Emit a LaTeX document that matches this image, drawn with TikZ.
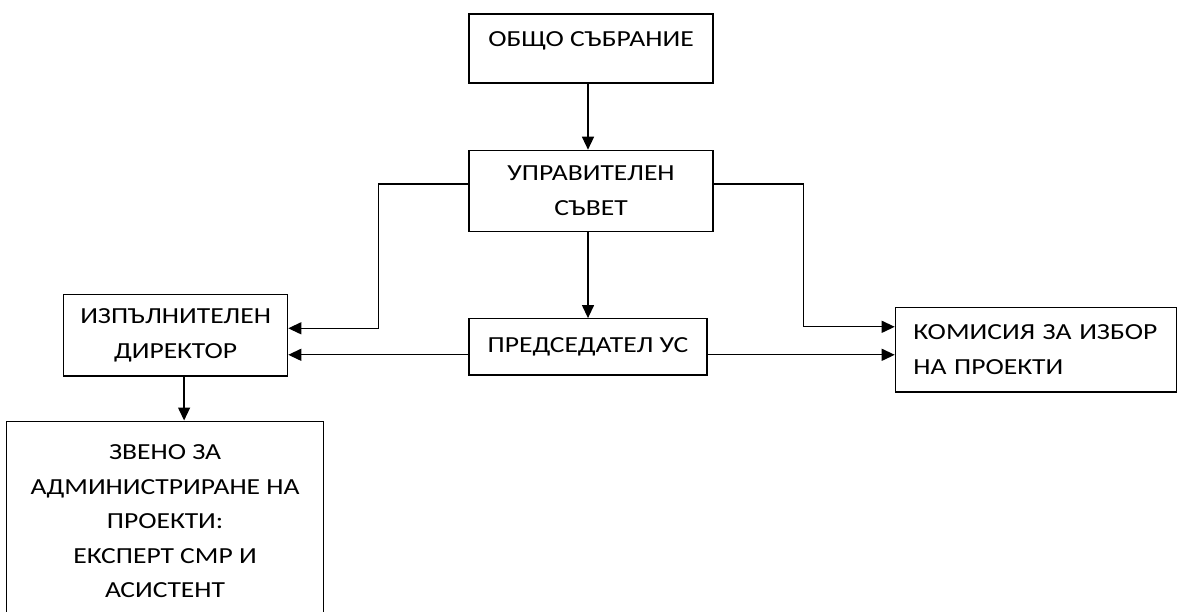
\documentclass[tikz,border=0pt]{standalone}
\usepackage{fontspec}
\setmainfont{Carlito}[FakeStretch=1.2]
\usetikzlibrary{positioning,arrows.meta}

\begin{document}
\begin{tikzpicture}[x=1pt, y=1pt,
  box/.style={draw, line width=1.4pt, inner sep=0pt, align=center, font=\fontsize{23}{34.5}\selectfont},
  arr/.style={line width=1.3pt, -{Triangle[length=13pt, width=12pt]}}]
\useasboundingbox (0,0) rectangle (1178,-612);
\node  (os)[box, minimum width=244pt, text height=32.7pt, text depth=36.3pt] at (591,-48.5) {ОБЩО СЪБРАНИЕ};
\node  (us)[box, minimum width=244pt, minimum height=81pt] [below=66pt of os] {УПРАВИТЕЛЕН\\СЪВЕТ};
\node  (pus)[box, minimum width=238pt, minimum height=56pt] [below=86pt of us, xshift=-3pt] {ПРЕДСЕДАТЕЛ УС};
\node  (id)[box, minimum width=224pt, minimum height=81pt] [left=180pt of pus.north west, anchor=north east, yshift=24pt] {ИЗПЪЛНИТЕЛЕН\\ДИРЕКТОР};
\node  (kip)[box, align=left, inner xsep=18pt, text width=245pt, minimum height=84pt] [right=187pt of pus.north east, anchor=north west, yshift=11pt] {КОМИСИЯ ЗА ИЗБОР\\НА ПРОЕКТИ};
\node  (zv)[box, minimum width=317pt, minimum height=200pt] [below=44pt of id, xshift=-10.5pt] {ЗВЕНО ЗА\\АДМИНИСТРИРАНЕ НА\\ПРОЕКТИ:\\ЕКСПЕРТ СМР И\\АСИСТЕНТ};
\draw[arr] (os.south -| pus.north) -- (us.north -| pus.north);
\draw[arr] (us.south -| pus.north) -- (pus.north);
\draw[arr] ([yshift=7pt]us.west) -- ++(-90,0) |- ([yshift=7pt]id.east);
\draw[arr] ([yshift=7pt]us.east) -- ++(90,0) |- ([yshift=23pt]kip.west);
\draw[arr] ([yshift=-8pt]pus.west) -- ([yshift=-8pt]pus.west -| id.east);
\draw[arr] ([yshift=-8pt]pus.east) -- ([yshift=-8pt]pus.east -| kip.west);
\draw[arr] ([xshift=8.5pt]id.south) -- ([xshift=8.5pt]id.south |- zv.north);
\end{tikzpicture}
\end{document}
